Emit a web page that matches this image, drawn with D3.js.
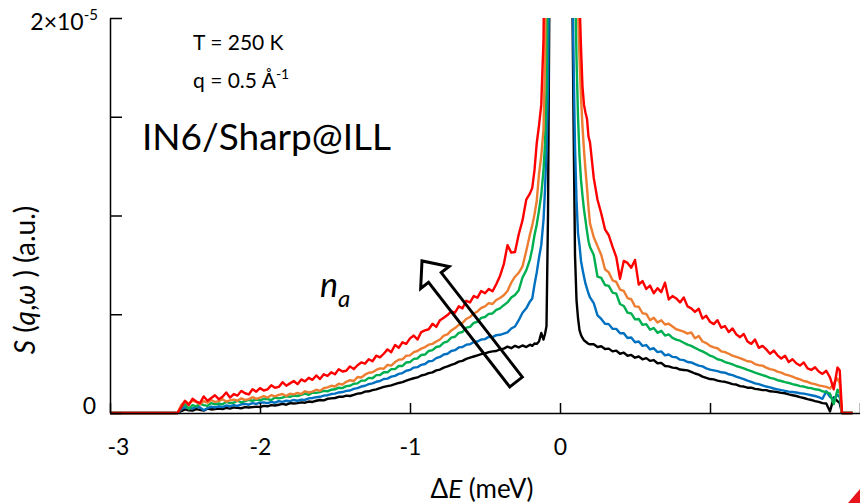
<!DOCTYPE html>
<html>
<head>
<meta charset="utf-8">
<script src="https://cdnjs.cloudflare.com/ajax/libs/d3/7.8.5/d3.min.js"></script>
<style>
  html, body { margin: 0; padding: 0; background: #fff; }
  svg { display: block; font-family: Lato, "Open Sans", sans-serif; }
</style>
</head>
<body>
<svg id="chart" width="860" height="503"></svg>
<script>
// energy transfer, meV
var energy = [-3, -2.55,
  -2.525, -2.5, -2.475, -2.45, -2.425, -2.4, -2.375, -2.35, -2.325, -2.3,
  -2.275, -2.25, -2.225, -2.2, -2.175, -2.15, -2.125, -2.1, -2.075, -2.05,
  -2.025, -2, -1.975, -1.95, -1.925, -1.9, -1.875, -1.85, -1.825, -1.8,
  -1.775, -1.75, -1.725, -1.7, -1.675, -1.65, -1.625, -1.6, -1.575, -1.55,
  -1.525, -1.5, -1.475, -1.45, -1.425, -1.4, -1.375, -1.35, -1.325, -1.3,
  -1.275, -1.25, -1.225, -1.2, -1.175, -1.15, -1.125, -1.1, -1.075, -1.05,
  -1.025, -1, -0.975, -0.95, -0.925, -0.9, -0.875, -0.85, -0.825, -0.8,
  -0.775, -0.75, -0.725, -0.7, -0.675, -0.65, -0.625, -0.6, -0.575, -0.55,
  -0.525, -0.5, -0.475, -0.45, -0.425, -0.4,
  -0.375, -0.35, -0.325, -0.3, -0.275, -0.25, -0.225, -0.2, -0.185, -0.17,
  -0.155, -0.14, -0.125, -0.11, -0.1, -0.09, -0.08, -0.07, -0.06, -0.05,
  0,
  0.06, 0.07, 0.08, 0.09, 0.1, 0.11, 0.12, 0.13, 0.14, 0.15,
  0.16, 0.17, 0.18, 0.19, 0.2,
  0.225, 0.25, 0.275, 0.3, 0.325, 0.35, 0.375, 0.4, 0.425, 0.45,
  0.475, 0.5, 0.525, 0.55, 0.575, 0.6, 0.625, 0.65, 0.675, 0.7,
  0.725, 0.75, 0.775, 0.8, 0.825, 0.85, 0.875, 0.9, 0.925, 0.95,
  0.975, 1, 1.025, 1.05, 1.075, 1.1, 1.125, 1.15, 1.175, 1.2,
  1.225, 1.25, 1.275, 1.3, 1.325, 1.35, 1.375, 1.4, 1.425, 1.45,
  1.475, 1.5, 1.525, 1.55, 1.575, 1.6, 1.625, 1.65, 1.675, 1.7,
  1.725, 1.75, 1.775, 1.8, 1.825, 1.85,
  1.865, 1.88, 1.95];

// S(q,w) in units of 1e-8 a.u. (2000 = 2x10^-5), lowest n_a first
var sBlack = [0, 0,
  10, 18, 14, 12, 20, 16, 12, 22, 18, 20,
  22, 20, 26, 22, 28, 26, 24, 30, 28, 30,
  32, 30, 36, 34, 40, 38, 42, 46, 42, 50,
  48, 50, 54, 52, 58, 56, 62, 66, 64, 72,
  74, 76, 82, 82, 88, 86, 92, 98, 100, 108,
  110, 116, 120, 126, 132, 136, 140, 146, 152, 156,
  164, 170, 176, 180, 190, 194, 202, 206, 216, 220,
  230, 236, 244, 250, 260, 264, 274, 280, 286, 292,
  298, 302, 308, 312, 314, 322,
  326, 336, 328, 340, 332, 342, 334, 346, 340, 352,
  350, 362, 405, 372, 400, 440, 1000, 2200, 3000, 3800,
  60000,
  4000, 3000, 2300, 1500, 800, 572, 481, 420, 395, 380,
  368, 362, 356, 350, 348,
  348, 334, 338, 324, 326, 312, 316, 300, 306, 290,
  294, 280, 286, 272, 278, 264, 268, 252, 254, 238,
  236, 230, 228, 220, 218, 216, 208, 200, 194, 184,
  178, 172, 170, 164, 160, 158, 152, 146, 144, 136,
  134, 128, 128, 122, 120, 116, 116, 110, 108, 106,
  102, 100, 94, 90, 86, 80, 76, 70, 66, 60,
  56, 50, 48, 8, 78, 60,
  50, 0, 0];

var sBlue = [0, 0,
  20, 30, 26, 22, 32, 28, 14, 24, 32, 28,
  34, 30, 38, 34, 40, 36, 44, 46, 42, 50,
  46, 52, 54, 50, 56, 52, 60, 56, 62, 60,
  66, 62, 68, 66, 74, 76, 80, 82, 88, 90,
  96, 98, 104, 106, 112, 114, 122, 126, 134, 138,
  146, 150, 158, 162, 172, 174, 184, 188, 198, 202,
  214, 218, 230, 232, 244, 248, 262, 264, 278, 284,
  296, 300, 314, 318, 332, 334, 346, 348, 360, 362,
  372, 374, 386, 384, 394, 396,
  402, 408, 428, 438, 470, 508, 530, 565, 580, 650,
  712, 786, 850, 978, 1130, 1330, 1640, 2400, 3100, 3800,
  60000,
  4000, 3200, 2400, 1800, 1350, 1080, 911, 850, 770, 728,
  690, 655, 630, 605, 585,
  556, 494, 476, 452, 450, 426, 426, 404, 404, 380,
  382, 358, 362, 340, 344, 322, 328, 308, 312, 292,
  296, 284, 282, 270, 268, 258, 256, 248, 240, 236,
  226, 220, 216, 212, 206, 204, 196, 192, 184, 178,
  172, 164, 158, 150, 146, 140, 134, 130, 124, 120,
  116, 112, 108, 106, 104, 100, 98, 94, 90, 86,
  80, 72, 110, 82, 68, 92,
  80, 0, 0];

var sGreen = [0, 0,
  30, 44, 20, 40, 34, 46, 40, 36, 50, 44,
  48, 44, 56, 50, 52, 62, 54, 60, 66, 62,
  68, 64, 72, 70, 66, 78, 74, 78, 84, 82,
  88, 86, 92, 98, 92, 104, 102, 106, 112, 110,
  118, 120, 128, 126, 136, 138, 148, 150, 164, 164,
  178, 176, 192, 192, 206, 206, 222, 222, 238, 238,
  256, 258, 274, 276, 294, 296, 314, 318, 334, 338,
  356, 362, 382, 386, 406, 410, 432, 436, 456, 462,
  482, 486, 502, 504, 522, 530,
  546, 560, 585, 598, 622, 686, 722, 778, 832, 900,
  955, 1025, 1105, 1230, 1360, 1640, 2350, 3000, 3600, 4200,
  60000,
  5000, 4200, 3400, 2700, 2200, 1800, 1500, 1300, 1180, 1100,
  1030, 975, 920, 870, 840,
  800, 690, 684, 648, 644, 610, 604, 552, 542, 508,
  504, 474, 476, 446, 450, 422, 430, 406, 416, 392,
  398, 380, 372, 366, 356, 346, 340, 330, 320, 312,
  302, 290, 284, 272, 268, 258, 252, 246, 238, 232,
  226, 218, 212, 204, 198, 192, 186, 178, 174, 166,
  162, 156, 152, 146, 142, 136, 134, 128, 126, 120,
  118, 110, 106, 98, 45, 118,
  100, 0, 0];

var sOrange = [0, 0,
  40, 60, 48, 62, 56, 44, 60, 52, 66, 56,
  60, 70, 58, 64, 68, 62, 74, 66, 70, 80,
  72, 78, 86, 78, 90, 84, 92, 96, 86, 98,
  94, 102, 96, 110, 104, 108, 118, 112, 126, 130,
  138, 134, 148, 144, 158, 166, 162, 182, 180, 194,
  204, 206, 218, 226, 224, 244, 240, 258, 270, 272,
  290, 292, 308, 314, 326, 334, 346, 350, 362, 372,
  392, 398, 418, 430, 446, 456, 476, 486, 504, 514,
  532, 540, 556, 552, 572, 582,
  596, 618, 660, 690, 710, 742, 820, 905, 950, 1005,
  1075, 1210, 1300, 1435, 1790, 2500, 3000, 3500, 4000, 4500,
  60000,
  6000, 5200, 4400, 3600, 3000, 2500, 2050, 1800, 1600, 1450,
  1330, 1230, 1140, 1040, 960,
  890, 845, 800, 728, 712, 672, 664, 625, 618, 582,
  576, 540, 538, 505, 502, 470, 482, 458, 470, 448,
  452, 438, 424, 418, 412, 402, 408, 378, 390, 362,
  354, 340, 332, 328, 312, 308, 300, 290, 284, 278,
  270, 262, 260, 248, 242, 240, 230, 222, 218, 210,
  204, 196, 190, 184, 176, 170, 162, 158, 150, 146,
  140, 136, 132, 124, 150, 175,
  150, 0, 0];

var sRed = [0, 0,
  30, 62, 40, 72, 58, 50, 84, 62, 76, 90,
  70, 82, 104, 78, 96, 88, 112, 100, 94, 120,
  108, 126, 114, 120, 140, 128, 132, 156, 138, 150,
  162, 146, 170, 160, 178, 168, 190, 172, 196, 188,
  206, 196, 222, 210, 214, 236, 222, 242, 256, 250,
  272, 262, 290, 282, 300, 322, 308, 344, 330, 358,
  350, 378, 392, 372, 410, 418, 424, 452, 436, 470,
  482, 496, 514, 508, 540, 530, 568, 560, 592, 584,
  618, 606, 628, 616, 652, 694,
  752, 850, 812, 815, 905, 975, 1080, 1112, 1140, 1230,
  1367, 1455, 1560, 1890, 2600, 3000, 3400, 3800, 4200, 4600,
  60000,
  8000, 7000, 6000, 5000, 4000, 3200, 2600, 2100, 1850, 1650,
  1560, 1520, 1490, 1400, 1370,
  1190, 1080, 1010, 930, 900, 842, 790, 680, 770, 760,
  735, 775, 650, 668, 628, 645, 606, 632, 612, 660,
  575, 592, 580, 560, 585, 540, 530, 512, 528, 478,
  492, 462, 450, 470, 432, 440, 410, 428, 398, 384,
  400, 362, 350, 372, 330, 340, 322, 300, 316, 292,
  276, 290, 258, 272, 252, 240, 256, 226, 218, 232,
  210, 198, 214, 180, 120, 230,
  215, 0, 0];

var seriesColors = ["#000000", "#0070C0", "#00B050", "#ED7D31", "#FF0000"];
var xTicks = [-3, -2, -1, 0, 1, 2];
var xTickLabels = ["-3", "-2", "-1", "0", "", ""];
var yTicks = [0, 500, 1000, 1500, 2000];

var series = [sBlack, sBlue, sGreen, sOrange, sRed].map(function(v, i) {
  if (v.length !== energy.length) throw new Error("series " + i + " has " + v.length + " values, expected " + energy.length);
  return {color: seriesColors[i], values: v};
});

var svg = d3.select("#chart");
var font = "Lato, 'Open Sans', sans-serif";

var x = d3.scaleLinear().domain([-3, 2]).range([110, 860]);
var y = d3.scaleLinear().domain([0, 2000]).range([413, 18]);

svg.append("defs").append("clipPath").attr("id", "plotClip")
  .append("rect")
    .attr("x", x(-3)).attr("y", y(2000))
    .attr("width", x(2) - x(-3)).attr("height", y(0) - y(2000) + 8);

var line = d3.line()
  .x(function(d, i) { return x(energy[i]); })
  .y(function(d) { return y(d); });

svg.append("g")
    .attr("clip-path", "url(#plotClip)")
  .selectAll("path")
  .data(series)
  .join("path")
    .attr("d", function(d) { return line(d.values); })
    .attr("fill", "none")
    .attr("stroke", function(d) { return d.color; })
    .attr("stroke-width", 2.4)
    .attr("stroke-linejoin", "round");

// x axis, ticks pointing inward
var gx = svg.append("g")
    .attr("transform", "translate(0," + y(0) + ")")
    .call(d3.axisBottom(x).tickValues(xTicks).tickSizeInner(-10).tickSizeOuter(0)
      .tickFormat(function(d, i) { return xTickLabels[i]; }));
gx.attr("font-family", font).attr("font-size", 23);
gx.select(".domain").attr("stroke", "#000").attr("stroke-width", 1.5);
gx.selectAll(".tick line").attr("stroke", "#000").attr("stroke-width", 1.5);
gx.selectAll(".tick text").attr("y", 42).attr("dy", 0).attr("fill", "#000")
  .attr("dx", function(d) { return d === -3 ? 8 : 0; });

// y axis
var gy = svg.append("g")
    .attr("transform", "translate(" + x(-3) + ",0)")
    .call(d3.axisLeft(y).tickValues(yTicks).tickSizeInner(-12).tickSizeOuter(0).tickFormat(""));
gy.select(".domain").attr("stroke", "#000").attr("stroke-width", 1.5);
gy.selectAll(".tick line").attr("stroke", "#000").attr("stroke-width", 1.5);

svg.append("text").attr("x", 96).attr("y", y(0) + 1)
  .attr("text-anchor", "end").attr("font-size", 23).text("0");

var topLabel = svg.append("text").attr("x", 98).attr("y", y(2000) + 12)
  .attr("text-anchor", "end").attr("font-size", 23);
topLabel.append("tspan").text("2×10");
topLabel.append("tspan").attr("font-size", 15).attr("dy", -10).text("-5");

// axis titles
var yTitle = svg.append("text")
  .attr("transform", "translate(35," + 280 + ") rotate(-90)")
  .attr("text-anchor", "middle").attr("font-size", 28);
yTitle.append("tspan").attr("font-style", "italic").text("S");
yTitle.append("tspan").text(" (");
yTitle.append("tspan").attr("font-style", "italic").text("q");
yTitle.append("tspan").text(",");
yTitle.append("tspan").attr("font-style", "italic").text("ω");
yTitle.append("tspan").text(" ) (a.u.)");

var xTitle = svg.append("text").attr("x", 482).attr("y", 498)
  .attr("text-anchor", "middle").attr("font-size", 26);
xTitle.append("tspan").text("Δ");
xTitle.append("tspan").attr("font-style", "italic").text("E");
xTitle.append("tspan").text(" (meV)");

// annotations
svg.append("text").attr("x", 193).attr("y", 50).attr("font-size", 21).text("T = 250 K");
var qText = svg.append("text").attr("x", 193).attr("y", 88).attr("font-size", 21);
qText.append("tspan").text("q = 0.5 Å");
qText.append("tspan").attr("font-size", 14).attr("dy", -9).text("-1");

svg.append("text").attr("x", 142).attr("y", 150).attr("font-size", 37).text("IN6/Sharp@ILL");

var na = svg.append("text").attr("x", 320).attr("y", 297).attr("font-style", "italic").attr("font-size", 34);
na.append("tspan").text("n");
na.append("tspan").attr("font-size", 24).attr("dy", 10).text("a");

// block arrow pointing toward increasing n_a
var arrowTip = [-0.92, 770], arrowTail = [-0.293, 157];
var tx = x(arrowTip[0]), ty = y(arrowTip[1]),
    bx = x(arrowTail[0]), by = y(arrowTail[1]);
var len = Math.hypot(tx - bx, ty - by),
    ux = (tx - bx) / len, uy = (ty - by) / len,
    nx = -uy, ny = ux;
var sw = 8, hw = 18, hl = 21;
var hx = tx - ux * hl, hy = ty - uy * hl;
var arrowPts = [
  [bx + nx * sw, by + ny * sw], [hx + nx * sw, hy + ny * sw], [hx + nx * hw, hy + ny * hw],
  [tx, ty],
  [hx - nx * hw, hy - ny * hw], [hx - nx * sw, hy - ny * sw], [bx - nx * sw, by - ny * sw]
];
svg.append("path")
  .attr("d", d3.line()(arrowPts) + "Z")
  .attr("fill", "none").attr("stroke", "#000").attr("stroke-width", 3)
  .attr("stroke-linejoin", "miter");

// red corner mark at bottom right
svg.append("path").attr("d", "M848,503L860,489L860,503Z").attr("fill", "#E8141B");
</script>
</body>
</html>
